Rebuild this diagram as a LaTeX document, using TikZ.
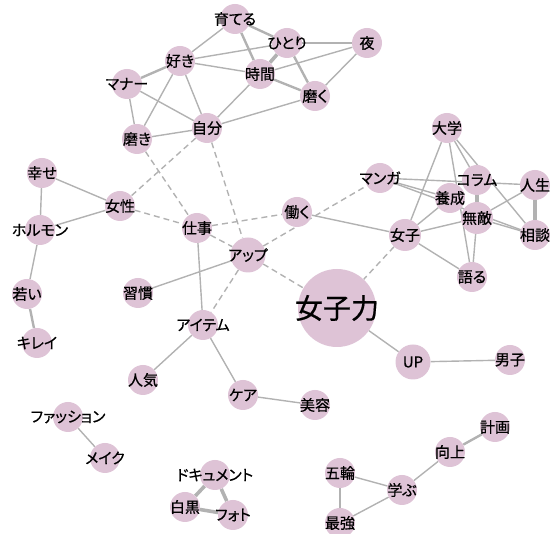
\documentclass[tikz,border=0pt]{standalone}
\usepackage{fontspec}
\newfontfamily\jp[RawFeature=+palt,FakeBold=0.6]{Noto Sans CJK JP}
\definecolor{nodec}{RGB}{222,195,214}
\definecolor{edgec}{RGB}{178,178,178}
\pgfdeclarelayer{bg}
\pgfsetlayers{bg,main}
\begin{document}
\begin{tikzpicture}[x=1pt,y=-1pt,
  dot/.style={circle,fill=nodec,draw=none,minimum size=30pt,inner sep=0pt},
  big/.style={dot,minimum size=78pt},
  mid/.style={dot,minimum size=35pt},
  lab/.style={font=\jp\fontsize{15}{17}\selectfont,text=black,inner sep=0pt},
  biglab/.style={font=\jp\fontsize{28}{30}\selectfont,text=black,inner sep=0pt},
  e/.style={draw=edgec,line width=1.4pt},
  em/.style={e,line width=2.4pt},
  ek/.style={e,line width=3.6pt},
  ed/.style={e,dash pattern=on 6pt off 4pt}]
\useasboundingbox (0,0) rectangle (550,534);
% top cluster
\node[dot,label={[lab]center:育てる}] (sodateru) at (235,19) {};
\node[dot,label={[lab]center:ひとり}] (hitori) at (287,43) {};
\node[dot,label={[lab]center:夜}] (yoru) at (367,43) {};
\node[dot,label={[lab]center:好き}] (suki) at (180,61) {};
\node[dot,label={[lab]center:時間}] (jikan) at (260,74) {};
\node[dot,label={[lab]center:マナー}] (manaa) at (127,84) {};
\node[dot,label={[lab]center:磨く}] (migaku) at (315,96) {};
\node[dot,label={[lab]center:自分}] (jibun) at (207,128) {};
\node[dot,label={[lab]center:磨き}] (migaki) at (137,139) {};
% left cluster
\node[dot,label={[lab]center:幸せ}] (shiawase) at (42,173) {};
\node[dot,label={[lab]center:女性}] (josei) at (120,206) {};
\node[dot,label={[lab]center:ホルモン}] (horumon) at (40,230) {};
\node[dot,label={[lab]center:若い}] (wakai) at (27,294) {};
\node[dot,label={[lab]center:キレイ}] (kirei) at (37,343) {};
% middle
\node[dot,label={[lab]center:仕事}] (shigoto) at (197,228) {};
\node[mid,label={[lab]center:アップ}] (appu) at (248,255) {};
\node[dot,label={[lab]center:働く}] (hataraku) at (297,212) {};
\node[dot,label={[lab]center:習慣}] (shukan) at (138,293) {};
\node[dot,label={[lab]center:アイテム}] (item) at (203,325) {};
\node[dot,label={[lab]center:人気}] (ninki) at (143,380) {};
\node[dot,label={[lab]center:ケア}] (kea) at (243,395) {};
\node[dot,label={[lab]center:美容}] (biyou) at (315,405) {};
\node[dot,label={[lab]center:ファッション}] (fashion) at (68,417) {};
\node[dot,label={[lab]center:メイク}] (meiku) at (105,458) {};
\node[dot,label={[lab]center:ドキュメント}] (doc) at (215,475) {};
\node[dot,label={[lab]center:白黒}] (shiro) at (185,507) {};
\node[dot,label={[lab]center:フォト}] (photo) at (233,515) {};
% bottom right
\node[big,label={[biglab]center:女子力}] (joshiryoku) at (337,308) {};
\node[mid,label={[lab]center:UP}] (up) at (413,362) {};
\node[dot,label={[lab]center:男子}] (danshi) at (510,360) {};
\node[dot,label={[lab]center:計画}] (keikaku) at (495,427) {};
\node[dot,label={[lab]center:向上}] (koujou) at (450,452) {};
\node[dot,label={[lab]center:学ぶ}] (manabu) at (402,490) {};
\node[dot,label={[lab]center:五輪}] (gorin) at (340,473) {};
\node[dot,label={[lab]center:最強}] (saikyou) at (340,523) {};
% right cluster
\node[dot,label={[lab]center:大学}] (daigaku) at (447,128) {};
\node[dot,label={[lab]center:マンガ}] (manga) at (380,178) {};
\node[dot,label={[lab]center:コラム}] (koramu) at (477,180) {};
\node[dot,label={[lab]center:人生}] (jinsei) at (535,185) {};
\node[dot,label={[lab]center:養成}] (yousei) at (450,198) {};
\node[dot,minimum size=32pt,label={[lab]center:無敵}] (muteki) at (477,218) {};
\node[dot,minimum size=32pt,label={[lab]center:女子}] (joshi) at (405,235) {};
\node[dot,label={[lab]center:相談}] (soudan) at (535,235) {};
\node[dot,label={[lab]center:語る}] (kataru) at (472,277) {};
\begin{pgfonlayer}{bg}
% top cluster edges
\draw[e] (sodateru) -- (suki);
\draw[em] (sodateru) -- (hitori);
\draw[em] (sodateru) -- (jikan);
\draw[e] (hitori) -- (suki);
\draw[e] (hitori) -- (yoru);
\draw[ek] (hitori) -- (jikan);
\draw[em] (hitori) -- (migaku);
\draw[e] (yoru) -- (jikan);
\draw[e] (yoru) -- (migaku);
\draw[e] (suki) -- (jikan);
\draw[em] (suki) -- (manaa);
\draw[e] (suki) -- (migaki);
\draw[e] (suki) -- (jibun);
\draw[em] (jikan) -- (migaku);
\draw[e] (jikan) -- (jibun);
\draw[e] (manaa) -- (migaki);
\draw[e] (manaa) -- (jibun);
\draw[e] (migaki) -- (jibun);
\draw[e] (jibun) -- (migaku);
\draw[ed] (jibun) -- (josei);
\draw[ed] (jibun) -- (appu);
\draw[ed] (migaki) -- (shigoto);
% left
\draw[e] (shiawase) -- (josei);
\draw[e] (shiawase) -- (horumon);
\draw[e] (josei) -- (horumon);
\draw[e] (horumon) -- (wakai);
\draw[em] (wakai) -- (kirei);
% middle
\draw[ed] (josei) -- (shigoto);
\draw[ed] (shigoto) -- (hataraku);
\draw[ed] (shigoto) -- (appu);
\draw[ed] (appu) -- (item);
\draw[ed] (appu) -- (manga);
\draw[ed] (appu) -- (joshiryoku);
\draw[ed] (joshi) -- (joshiryoku);
\draw[e] (shigoto) -- (item);
\draw[e] (appu) -- (shukan);
\draw[e] (hataraku) -- (joshi);
\draw[e] (item) -- (ninki);
\draw[e] (item) -- (kea);
\draw[e] (kea) -- (biyou);
\draw[e] (fashion) -- (meiku);
\draw[e] (joshiryoku) -- (up);
\draw[e] (up) -- (danshi);
\draw[ek] (doc) -- (shiro);
\draw[ek] (doc) -- (photo);
\draw[ek] (shiro) -- (photo);
% bottom right
\draw[em] (keikaku) -- (koujou);
\draw[e] (koujou) -- (manabu);
\draw[e] (manabu) -- (gorin);
\draw[e] (manabu) -- (saikyou);
\draw[em] (gorin) -- (saikyou);
% right cluster
\draw[e] (manga) -- (jinsei);
\draw[e] (manga) -- (yousei);
\draw[e] (manga) -- (soudan);
\draw[e] (daigaku) -- (joshi);
\draw[e] (daigaku) -- (kataru);
\draw[e] (daigaku) -- (koramu);
\draw[e] (daigaku) -- (soudan);
\draw[ek] (koramu) -- (muteki);
\draw[e] (jinsei) -- (muteki);
\draw[ek] (jinsei) -- (soudan);
\draw[e] (muteki) -- (soudan);
\draw[e] (muteki) -- (joshi);
\draw[e] (muteki) -- (kataru);
\draw[e] (yousei) -- (joshi);
\draw[e] (joshi) -- (kataru);
\end{pgfonlayer}
\end{tikzpicture}
\end{document}
